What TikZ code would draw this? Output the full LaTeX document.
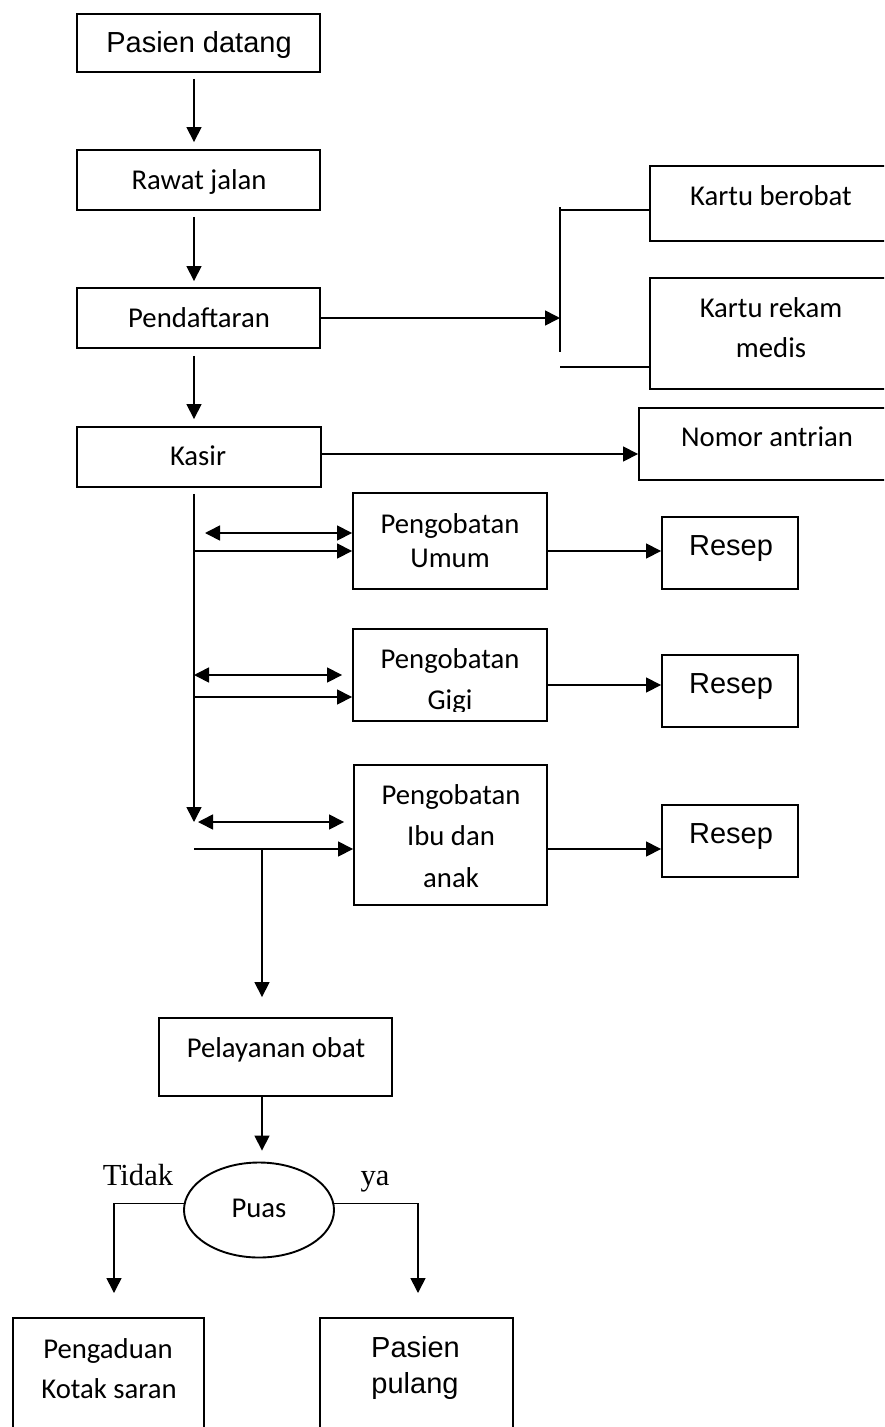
\documentclass[tikz,border=0pt]{standalone}
\usepackage{fontspec}
\setmainfont{Carlito}
\newfontfamily\arialf{Liberation Sans}
\newfontfamily\tnrf{Liberation Serif}
\usetikzlibrary{arrows.meta,shapes.geometric}
\begin{document}
\begin{tikzpicture}[x=1pt,y=-1pt,
  box/.style={draw,line width=1.9pt,inner sep=0pt,rectangle},
  ln/.style={line width=1.6pt},
  arr/.style={ln,-{Triangle[length=15pt,width=15pt]}},
  darr/.style={ln,{Triangle[length=15pt,width=15pt]}-{Triangle[length=15pt,width=15pt]}},
  cal/.style={anchor=base,inner sep=0pt,font=\fontsize{28.7}{34}\selectfont},
  ari/.style={anchor=base,inner sep=0pt,font=\arialf\fontsize{29}{34}\selectfont},
  tnr/.style={anchor=base,inner sep=0pt,font=\tnrf\fontsize{30.6}{36}\selectfont}]
\fill[white] (0,0) rectangle (884,1427);
\clip (0,0) rectangle (884,1427);
% boxes
\node[box,minimum width=243pt,minimum height=58pt] (pd) at (198.5,43) {};
\node[box,minimum width=243pt,minimum height=60pt] (rj) at (198.5,180) {};
\node[box,minimum width=243pt,minimum height=60pt] (pf) at (198.5,318) {};
\node[box,minimum width=244pt,minimum height=60pt] (ks) at (199,457) {};
\node[box,minimum width=250pt,minimum height=75pt] (kb) at (775,203.5) {};
\node[box,minimum width=250pt,minimum height=111pt] (km) at (775,333.5) {};
\node[box,minimum width=261pt,minimum height=72pt] (na) at (769.5,444) {};
\node[box,minimum width=194pt,minimum height=96pt] (pu) at (450,541) {};
\node[box,minimum width=194pt,minimum height=92pt] (pg) at (450,675) {};
\node[box,minimum width=193pt,minimum height=140pt] (pi) at (450.5,835) {};
\node[box,minimum width=136pt,minimum height=72pt] (r1) at (730,553) {};
\node[box,minimum width=136pt,minimum height=72pt] (r2) at (730,691) {};
\node[box,minimum width=136pt,minimum height=72pt] (r3) at (730,841) {};
\node[box,minimum width=233pt,minimum height=78pt] (po) at (275.5,1057) {};
\node[draw,ellipse,line width=1.9pt,inner sep=0pt,minimum width=150pt,minimum height=95pt] (puas) at (259,1210) {};
\node[box,minimum width=191pt,minimum height=122pt] (pa) at (108.5,1379) {};
\node[box,minimum width=193pt,minimum height=122pt] (pp) at (416.5,1379) {};
% texts
\node[ari] (tpd) at (199,52) {Pasien datang};
\node[cal] (trj) at (199,189) {Rawat jalan};
\node[cal] (tpf) at (199,327) {Pendaftaran};
\node[cal] (tks) at (198,465) {Kasir};
\node[cal] (tkb) at (771,205) {Kartu berobat};
\node[cal] (tkm1) at (771,317) {Kartu rekam};
\node[cal] (tkm2) at (771,357) {medis};
\node[cal] (tna) at (767,446) {Nomor antrian};
\node[cal] (tpu1) at (450,533) {Pengobatan};
\node[cal] (tpu2) at (450,567) {Umum};
\node[cal] (tpg1) at (450,668) {Pengobatan};
\begin{scope}
\clip (354,600) rectangle (546,711);
\node[cal] (tpg2) at (450,709) {Gigi};
\end{scope}
\node[cal] (tpi1) at (451,804) {Pengobatan};
\node[cal] (tpi2) at (451,845) {Ibu dan};
\node[cal] (tpi3) at (451,887) {anak};
\node[ari] (tr1) at (731,555) {Resep};
\node[ari] (tr2) at (731,693) {Resep};
\node[ari] (tr3) at (731,843) {Resep};
\node[cal] (tpo) at (276,1057) {Pelayanan obat};
\node[cal] (tpuas) at (259,1217) {Puas};
\node[tnr] (ttidak) at (138,1185) {Tidak};
\node[tnr] (tya) at (375,1185) {ya};
\node[cal] (tpa1) at (108,1358) {Pengaduan};
\node[cal] (tpa2) at (109,1398) {Kotak saran};
\node[ari] (tpp1) at (415.5,1357) {Pasien};
\node[ari] (tpp2) at (415,1393) {pulang};
% helper coordinates
\coordinate (sx) at (194,0);
\coordinate (bt) at (560,207);
\coordinate (bb) at (560,352);
\coordinate (bar) at (560,318);
\coordinate (b1) at (560,210);
\coordinate (b2) at (560,367);
\coordinate (d1) at (205,533);
\coordinate (s1) at (194,551);
\coordinate (d2) at (194,675);
\coordinate (s2) at (194,697);
\coordinate (q2) at (0,685);
\coordinate (d3) at (198,822);
\coordinate (s3) at (194,849);
\coordinate (j) at (262,849);
\coordinate (tx) at (114,1293);
\coordinate (yx) at (418,1293);
% connectors
\draw[arr,shorten <=6pt,shorten >=7pt] (pd.south -| sx) -- (rj.north -| sx);
\draw[arr,shorten <=6pt,shorten >=6pt] (rj.south -| sx) -- (pf.north -| sx);
\draw[arr,shorten <=7pt,shorten >=7pt] (pf.south -| sx) -- (ks.north -| sx);
\draw[arr] (pf.east) -- (bar);
\draw[ln] (bt) -- (bb);
\draw[ln] (b1) -- (b1 -| kb.west);
\draw[ln] (b2) -- (b2 -| km.west);
\draw[arr] ([yshift=3pt]ks.east) -- ([yshift=3pt]ks.east -| na.west);
\draw[arr,shorten <=6pt] (ks.south -| sx) -- (sx |- d3);
\draw[darr] (d1) -- (d1 -| pu.west);
\draw[arr] (s1) -- (s1 -| pu.west);
\draw[darr,shorten >=10pt] (d2) -- (d2 -| pg.west);
\draw[arr] (s2) -- (s2 -| pg.west);
\draw[darr,shorten >=9pt] (d3) -- (d3 -| pi.west);
\draw[arr] (s3) -- (s3 -| pi.west);
\draw[arr,shorten >=20pt] (j) -- (j |- po.north);
\draw[arr] (s1 -| pu.east) -- (s1 -| r1.west);
\draw[arr] (q2 -| pg.east) -- (q2 -| r2.west);
\draw[arr] (s3 -| pi.east) -- (s3 -| r3.west);
\draw[arr,shorten >=11pt] (j |- po.south) -- (j |- puas.north);
\draw[arr] (puas.175) -| (tx);
\draw[arr] (puas.5) -| (yx);
\end{tikzpicture}
\end{document}
